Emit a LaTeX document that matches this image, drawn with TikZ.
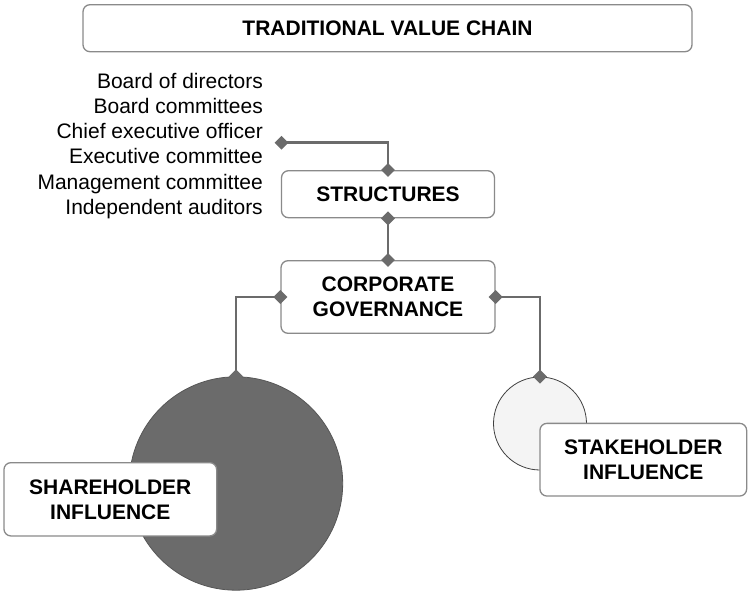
\documentclass[tikz,border=0pt]{standalone}
\usepackage{fontspec}
\setmainfont{Liberation Sans}
\usetikzlibrary{shapes.geometric}
\definecolor{conncol}{HTML}{6B6B6B}
\definecolor{boxcol}{HTML}{8A8A8A}
\definecolor{bigfill}{HTML}{6B6B6B}
\definecolor{smallfill}{HTML}{F4F4F4}
\tikzset{
  box/.style={draw=boxcol, line width=1.3pt, rounded corners=7pt, fill=white,
    align=center, inner sep=0pt, font=\fontsize{21}{25}\selectfont\bfseries},
  conn/.style={draw=conncol, line width=2.6pt},
  dia/.style={diamond, fill=conncol, draw=none, minimum size=14pt, inner sep=0pt},
  listtext/.style={align=right, inner sep=0pt, font=\fontsize{21}{25.1}\selectfont}
}
\begin{document}
\begin{tikzpicture}[x=1pt,y=-1pt]
\useasboundingbox (0,0) rectangle (748,592);

% circles
\node[circle, fill=bigfill, draw=bigfill!80!black, line width=0.8pt, minimum size=213.4pt, inner sep=0pt] (bigc) at (236,483.5) {};
\node[circle, fill=smallfill, draw=black!75, line width=0.8pt, minimum size=93pt, inner sep=0pt] (smc) at (540,423.5) {};

% boxes
\node[box, minimum width=609pt, minimum height=47pt] (title) at (387.5,28.2) {TRADITIONAL VALUE CHAIN};
\node[box, minimum width=213pt, minimum height=47pt] (struct) at (388,194.2) {STRUCTURES};
\node[box, minimum width=214pt, minimum height=72.6pt] (corp) at (388,297) {CORPORATE\\GOVERNANCE};
\node[box, minimum width=212.7pt, minimum height=73.3pt] (share) at (110.3,499.3) {SHAREHOLDER\\INFLUENCE};
\node[box, minimum width=206.7pt, minimum height=72.7pt] (stake) at (643.3,459.7) {STAKEHOLDER\\INFLUENCE};

% list
\node[listtext, anchor=north east] (list) at (263,73.2) {Board of directors\\Board committees\\Chief executive officer\\Executive committee\\Management committee\\Independent auditors};
\coordinate (lst) at (281.5,142.7);

% connectors
\draw[conn] (lst) -| (struct.north);
\draw[conn] (struct.south) -- (corp.north);
\draw[conn] (corp.west) -| (bigc.north);
\draw[conn] (corp.east) -| (smc.north);

% diamonds
\node[dia] (d1) at (lst) {};
\node[dia] (d2) at (struct.north) {};
\node[dia] (d3) at (struct.south) {};
\node[dia] (d4) at (corp.north) {};
\node[dia] (d5) at (corp.west) {};
\node[dia] (d6) at (corp.east) {};
\node[dia] (d7) at (bigc.north) {};
\node[dia] (d8) at (smc.north) {};
\end{tikzpicture}
\end{document}
